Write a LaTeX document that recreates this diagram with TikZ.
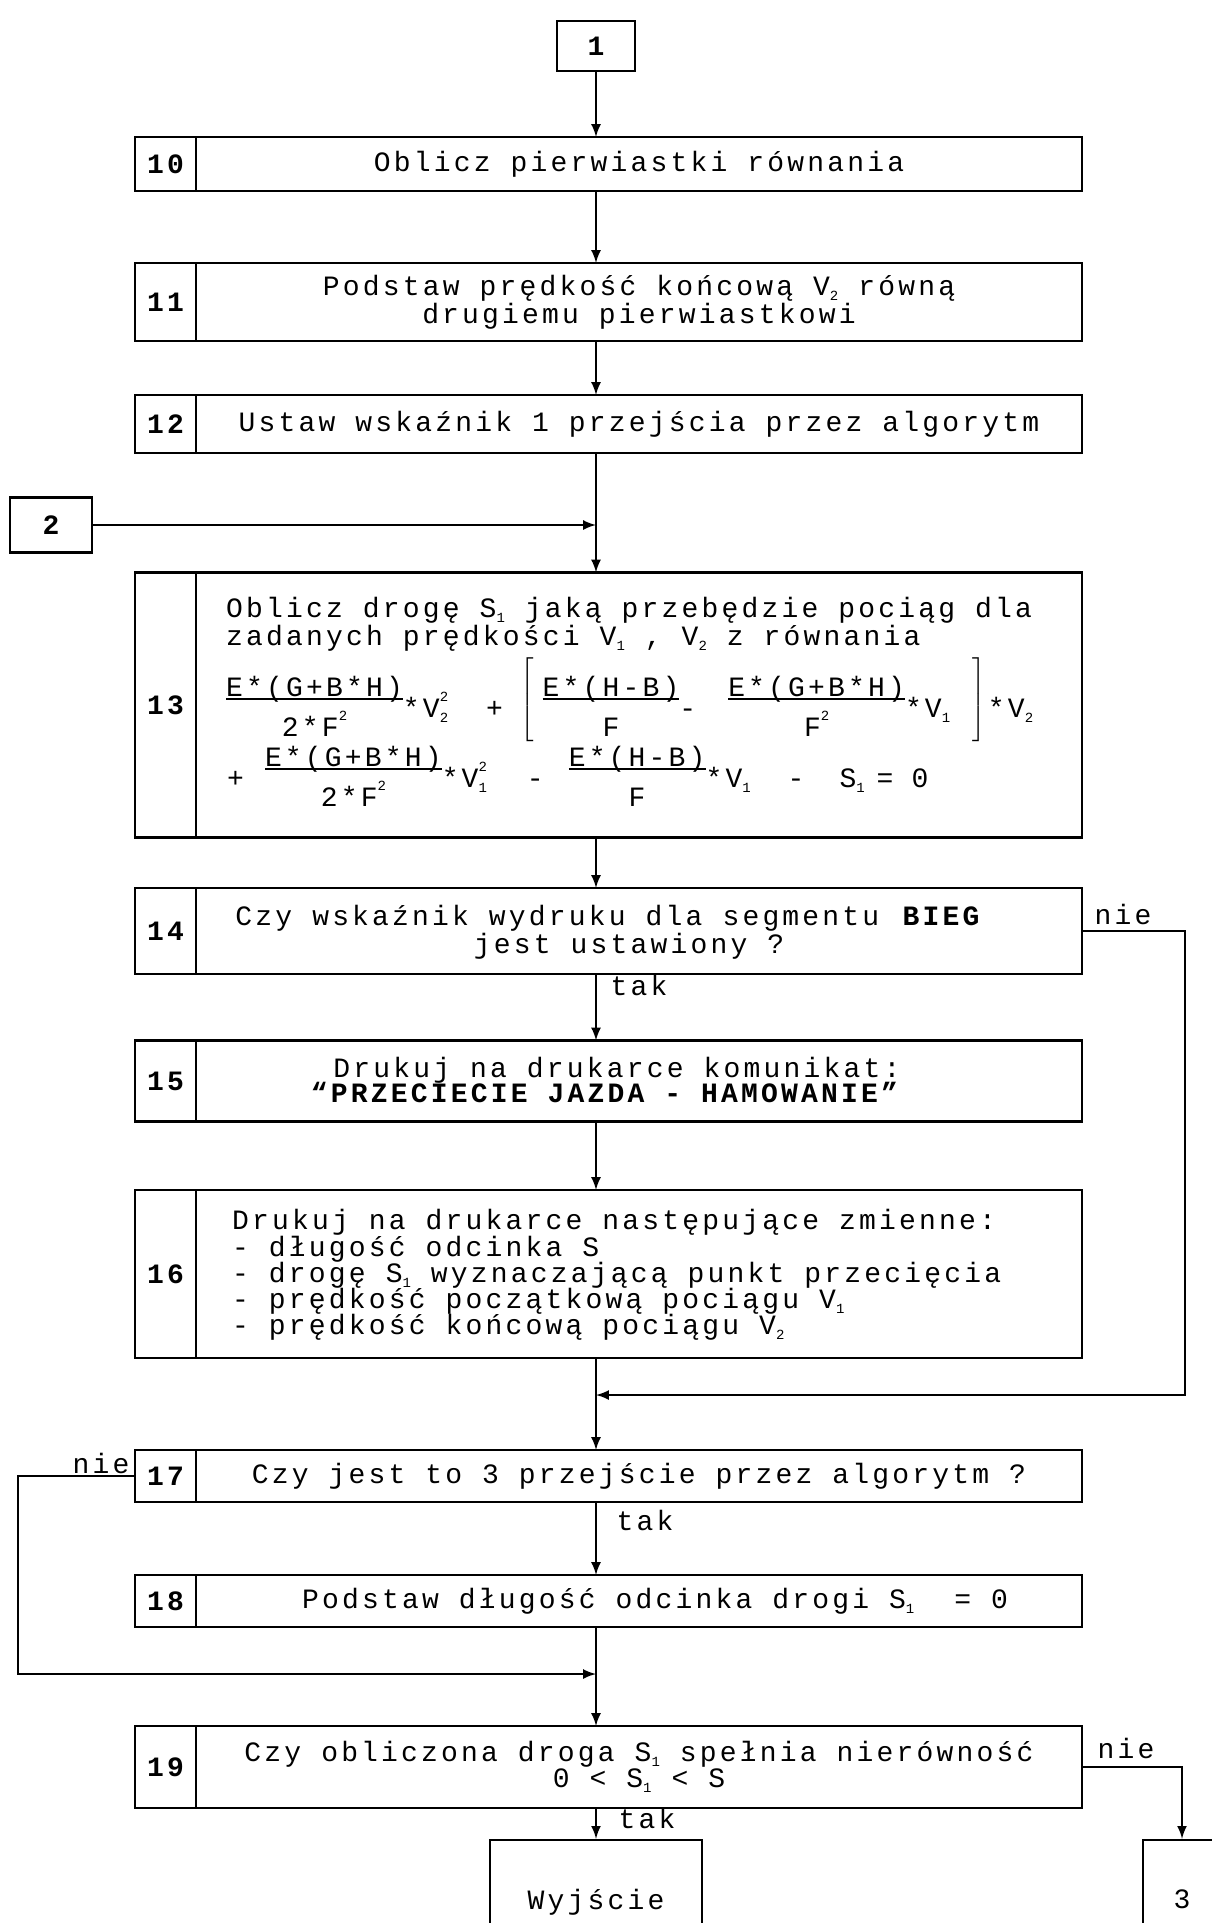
\documentclass[tikz,border=0pt]{standalone}
\usepackage{fontspec}
\setmainfont{Liberation Mono}[LetterSpace=11.4]
\usetikzlibrary{positioning}

\setlength{\arrayrulewidth}{1pt}
% small indices and powers
\newcommand{\lo}[1]{\raisebox{-0.2em}{\fontsize{7}{7}\selectfont #1}}
\newcommand{\hi}[1]{\raisebox{0.55em}{\fontsize{7}{7}\selectfont #1}}
\newcommand{\lohi}[2]{\rlap{\lo{#1}}\hi{#2}}
% fraction written as numerator over a rule
\newcommand{\fr}[2]{\raisebox{-9.5pt}{\begin{tabular}[b]{@{}c@{}}#1\\[-3pt]\hline\rule{0pt}{18pt}#2\end{tabular}}}
% tall square bracket
\newcommand{\brk}[1]{\raisebox{5pt}[0pt][0pt]{$\left#1\vrule width 0pt height 19pt depth 19pt\right.$}}

\begin{document}
\begin{tikzpicture}[x=0.5pt, y=-0.5pt, >=latex, line width=1.2pt,
  font=\fontsize{14}{13}\selectfont,
  nr/.style={draw, outer sep=0pt, inner sep=0pt, minimum width=30.5pt,
    font=\fontsize{14}{13}\selectfont\bfseries},
  cell/.style={draw, outer sep=0pt, inner sep=0pt, minimum width=443pt, align=center},
  term/.style={draw, inner sep=0pt},
  line/.style={anchor=base west, inner sep=0pt},
  mid/.style={anchor=base, inner sep=0pt},
  lbl/.style={inner sep=0pt}]

  \useasboundingbox (0,0) rectangle (1211,1923);

  % entry points
  \node[term, minimum width=39pt, minimum height=25pt, font=\fontsize{14}{13}\selectfont\bfseries] (b1) at (596,46) {1};
  \node[term, minimum width=41pt, minimum height=27.5pt, font=\fontsize{14}{13}\selectfont\bfseries] (b2) at (51,525) {2};

  % numbered steps
  \node[nr, minimum height=27pt] (n10) at (165.5,164) {10};
  \node[cell, minimum height=27pt, right=0pt of n10] (t10) {Oblicz pierwiastki równania};

  \node[nr, minimum height=39pt] (n11) at (165.5,302) {11};
  \node[cell, minimum height=39pt, right=0pt of n11] (t11) {Podstaw prędkość końcową V\lo{2} równą\\drugiemu pierwiastkowi};

  \node[nr, minimum height=29pt] (n12) at (165.5,424) {12};
  \node[cell, minimum height=29pt, right=0pt of n12] (t12) {Ustaw wskaźnik 1 przejścia przez algorytm};

  \node[nr, minimum height=132.5pt] (n13) at (165.5,705) {13};
  \node[cell, minimum height=132.5pt, right=0pt of n13] (t13) {};
  \node[line] (l13a) at (225,617) {Oblicz drogę S\lo{1} jaką przebędzie pociąg dla};
  \node[line] (l13b) at (225,645) {zadanych prędkości V\lo{1} , V\lo{2} z równania};
  \node[line] (l13c) at (225,717) {\fr{E*(G+B*H)}{2*F\hi{2}}*V\lohi{2}{2}\hspace{19pt}+\hspace{9pt}\brk{[}\hspace{3pt}\fr{E*(H-B)}{F}-\hspace{16pt}\fr{E*(G+B*H)}{F\hi{2}}*V\lo{1}\hspace{11pt}\brk{]}*V\lo{2}};
  \node[line] (l13d) at (226,787) {+\hspace{10.5pt}\fr{E*(G+B*H)}{2*F\hi{2}}*V\lohi{1}{2}\hspace{20pt}-\hspace{12.5pt}\fr{E*(H-B)}{F}*V\lo{1}\hspace{18.5pt}-\hspace{17.5pt}S\lo{1}\hspace{6pt}=\hspace{9pt}0};

  \node[nr, minimum height=43pt] (n14) at (165.5,931) {14};
  \node[cell, minimum height=43pt, right=0pt of n14] (t14) {};
  \node[mid] (l14a) at (609,925) {Czy wskaźnik wydruku dla segmentu \textbf{BIEG}};
  \node[mid] (l14b) at (629,953) {jest ustawiony ?};

  \node[nr, minimum height=40.5pt] (n15) at (165.5,1081) {15};
  \node[cell, minimum height=40.5pt, right=0pt of n15] (t15) {};
  \node[mid] (l15a) at (617,1077) {Drukuj na drukarce komunikat:};
  \node[mid] (l15b) at (606,1102) {\textbf{“PRZECIECIE JAZDA - HAMOWANIE”}};

  \node[nr, minimum height=84pt] (n16) at (165.5,1274) {16};
  \node[cell, minimum height=84pt, right=0pt of n16] (t16) {};
  \node[line] (l16a) at (231,1229) {Drukuj na drukarce następujące zmienne:};
  \node[line] (l16b) at (231,1256) {- długość odcinka S};
  \node[line] (l16c) at (231,1282) {- drogę S\lo{1} wyznaczającą punkt przecięcia};
  \node[line] (l16d) at (231,1308) {- prędkość początkową pociągu V\lo{1}};
  \node[line] (l16e) at (231,1334) {- prędkość końcową pociągu V\lo{2}};

  \node[nr, minimum height=26pt] (n17) at (165.5,1476) {17};
  \node[cell, minimum height=26pt, right=0pt of n17] (t17) {Czy jest to 3 przejście przez algorytm ?};

  \node[nr, minimum height=26pt] (n18) at (165.5,1601) {18};
  \node[cell, minimum height=26pt, right=0pt of n18] (t18) {};
  \node[mid] (l18) at (655,1608) {Podstaw długość odcinka drogi S\lo{1}\ \ = 0};

  \node[nr, minimum height=41pt] (n19) at (165.5,1767) {19};
  \node[cell, minimum height=41pt, right=0pt of n19] (t19) {Czy obliczona droga S\lo{1} spełnia nierówność\\0 < S\lo{1} < S};

  % exits
  \node[term, minimum width=106pt, minimum height=62pt] (wyj) at (596,1902) {Wyjście};
  \node[term, minimum width=39pt, minimum height=59pt] (b3) at (1182,1899) {3};

  % flow lines
  \draw[->] (b1) -- (b1 |- t10.north);
  \draw[->] (t10.south -| b1) -- (t11.north -| b1);
  \draw[->] (t11.south -| b1) -- (t12.north -| b1);
  \draw[->] (t12.south -| b1) -- (t13.north -| b1);
  \draw[->] (b2) -- (b2 -| b1);
  \draw[->] (t13.south -| b1) -- (t14.north -| b1);
  \draw[->] (t14.south -| b1) -- (t15.north -| b1);
  \draw[->] (t15.south -| b1) -- (t16.north -| b1);
  \draw[->] (t16.south -| b1) -- (t17.north -| b1);
  \draw[->] (t17.south -| b1) -- (t18.north -| b1);
  \draw[->] (t18.south -| b1) -- (t19.north -| b1);
  \draw[->] (t19.south -| b1) -- (wyj);

  \coordinate (j1) at (596,1395);
  \coordinate (j2) at (596,1674);
  \draw[->] (t14.east) -- ++(103,0) |- (j1);
  \draw[->] (n17.west) -- ++(-117,0) |- (j2);
  \draw[->] (t19.east) -| (b3);

  % yes / no labels
  \node[lbl] (nie14) at (1123,914) {nie};
  \node[lbl] (tak14) at (639,985) {tak};
  \node[lbl] (nie17) at (101,1463) {nie};
  \node[lbl] (tak17) at (645,1520) {tak};
  \node[lbl] (nie19) at (1126,1748) {nie};
  \node[lbl] (tak19) at (647,1818) {tak};
\end{tikzpicture}
\end{document}
